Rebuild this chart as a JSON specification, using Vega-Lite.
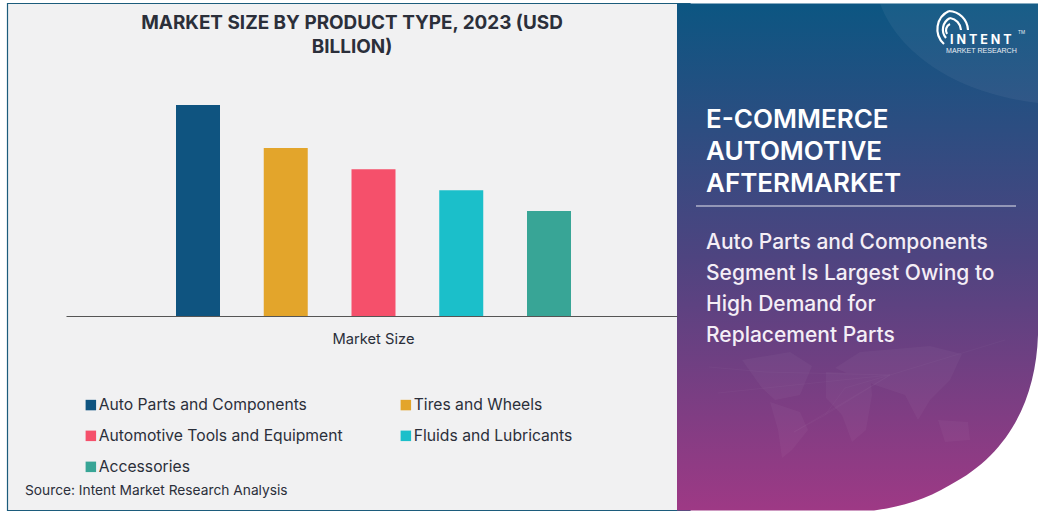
{
"$schema":"https://vega.github.io/schema/vega-lite/v6.json",
"width":1043,"height":513,"padding":0,"autosize":{"type":"none"},"background":"#ffffff",
"title":{"text":["MARKET SIZE BY PRODUCT TYPE, 2023 (USD","BILLION)"],"anchor":"start","align":"center","frame":"group","dx":352,"offset":-57,"baseline":"top","lineHeight":24.5,"font":"Inter","fontSize":18.9,"fontWeight":700,"color":"#2b2f3a"},
"config":{"view":{"stroke":null},"font":"Inter"},
"resolve":{"scale":{"x":"independent","y":"independent","color":"independent"},"axis":{"x":"independent","y":"independent"}},
"layer":[
{"data":{"values":[{"panel":"left"}]},
 "mark":{"type":"point","shape":"M7.5 3.5H690V510.5H7.5Z","size":4,"filled":true,"fill":"#f1f1f2","stroke":"#1c5c7c","strokeWidth":1.2,"opacity":1},
 "encoding":{"x":{"value":0},"y":{"value":0}}},
{"data":{"values":[
 {"group":"Market Size","product":"Auto Parts and Components","size":5},
 {"group":"Market Size","product":"Tires and Wheels","size":3.98},
 {"group":"Market Size","product":"Automotive Tools and Equipment","size":3.48},
 {"group":"Market Size","product":"Fluids and Lubricants","size":2.98},
 {"group":"Market Size","product":"Accessories","size":2.49}]},
 "mark":{"type":"bar"},
 "encoding":{
  "x":{"field":"group","type":"nominal","title":null,"scale":{"range":[66,677],"paddingInner":0,"paddingOuter":0},
   "axis":{"offset":-197,"zindex":1,"ticks":false,"labelAngle":0,"labelPadding":15,"labelOffset":2,"labelFont":"Inter","labelFontSize":14.7,"labelColor":"#2b2f3a","domainColor":"#555555","domainWidth":1,"grid":false}},
  "xOffset":{"field":"product","type":"nominal","sort":null,"scale":{"range":[110,505],"paddingInner":0.4986,"paddingOuter":0}},
  "y":{"field":"size","type":"quantitative","axis":null,"scale":{"domain":[0,7.488],"range":[316,0],"nice":false}},
  "color":{"field":"product","type":"nominal","sort":null,
   "scale":{"domain":["Auto Parts and Components","Tires and Wheels","Automotive Tools and Equipment","Fluids and Lubricants","Accessories"],"range":["#0f5480","#e3a52b","#f5506b","#1bbfca","#38a596"]},
   "legend":{"title":null,"orient":"none","legendX":83,"legendY":397,"columns":2,"direction":"horizontal","symbolType":"square","symbolSize":110,"symbolStrokeWidth":0,"labelFont":"Inter","labelFontSize":15.7,"labelColor":"#2b2f3a","labelOffset":0,"rowPadding":14,"columnPadding":55,"labelLimit":400}}}},
{"data":{"values":[{"text":"Source: Intent Market Research Analysis"}]},
 "mark":{"type":"text","align":"left","baseline":"middle","font":"Inter","fontSize":13.75,"color":"#2b2f3a"},
 "encoding":{"text":{"field":"text"},"x":{"value":25},"y":{"value":491}}},
{"data":{"values":[{"panel":"right"}]},
 "mark":{"type":"point","shape":"M677 3.5H1038V335C1036 400 1008 455 950 485C925 500 900 507 874 510.5H677Z","size":4,"filled":true,"opacity":1,"strokeWidth":0,
  "fill":{"gradient":"linear","x1":0,"y1":0,"x2":0,"y2":1,"stops":[{"offset":0,"color":"#0c5682"},{"offset":0.5,"color":"#4e4480"},{"offset":1,"color":"#9e3985"}]}},
 "encoding":{"x":{"value":0},"y":{"value":0}}},
{"data":{"values":[{"panel":"arc"}]},
 "mark":{"type":"point","shape":"M880 3.5C895 45 945 92 1038 103V3.5Z","size":4,"filled":true,"fill":"#ffffff","opacity":0.05,"strokeWidth":0},
 "encoding":{"x":{"value":0},"y":{"value":0}}},
{"data":{"values":[{"panel":"map"}]},
 "mark":{"type":"point","shape":"M742 360L790 352L812 366L800 395L775 400L762 388ZM770 402L800 412L808 430L792 450L782 458L778 430ZM826 372L870 374L872 395L866 430L852 442L842 415L826 398ZM835 368L860 352L930 346L962 354L950 380L930 400L918 420L905 395L875 385ZM938 420L968 422L970 440L945 442Z","size":4,"filled":true,"fill":"#ffffff","opacity":0.035,"strokeWidth":0},
 "encoding":{"x":{"value":0},"y":{"value":0}}},
{"data":{"values":[{"panel":"network"}]},
 "mark":{"type":"point","shape":"M890 375L718 393M890 375L794 432M890 375L825 415M890 375L845 388M890 375L1005 340M890 375L765 372M709 367L765 372M794 432L825 415M845 388L825 415","size":4,"filled":false,"stroke":"#ffffff","strokeWidth":0.5,"opacity":0.05},
 "encoding":{"x":{"value":0},"y":{"value":0}}},
{"data":{"values":[{"panel":"logo"}]},
 "mark":{"type":"point","shape":"M949 11A20 20 0 0 1 968 30M950 18A13 13 0 0 1 961 30M949 11A20 20 0 0 0 944 44M950 18A13 13 0 0 0 946 38M950 24A7 7 0 0 0 947 34","size":4,"filled":false,"stroke":"#ffffff","strokeWidth":2.2,"opacity":1},
 "encoding":{"x":{"value":0},"y":{"value":0}}},
{"data":{"values":[{"line":"E-COMMERCE"},{"line":"AUTOMOTIVE"},{"line":"AFTERMARKET"}]},
 "mark":{"type":"text","align":"left","baseline":"middle","font":"Inter","fontSize":26,"fontWeight":600,"color":"#ffffff"},
 "encoding":{"text":{"field":"line"},"x":{"value":706},"y":{"field":"line","type":"nominal","sort":null,"axis":null,"scale":{"type":"point","padding":0,"range":[120,184]}}}},
{"data":{"values":[{"part":"divider"}]},
 "mark":{"type":"rule","color":"#e6e6ee","strokeWidth":1},
 "encoding":{"x":{"value":696},"x2":{"value":1016},"y":{"value":206}}},
{"data":{"values":[{"line":"Auto Parts and Components"},{"line":"Segment Is Largest Owing to"},{"line":"High Demand for"},{"line":"Replacement Parts"}]},
 "mark":{"type":"text","align":"left","baseline":"middle","font":"Inter","fontSize":21,"fontWeight":500,"color":"#f4eef6"},
 "encoding":{"text":{"field":"line"},"x":{"value":706},"y":{"field":"line","type":"nominal","sort":null,"axis":null,"scale":{"type":"point","padding":0,"range":[243,336]}}}},
{"data":{"values":[{"t":"I N T E N T"}]},
 "mark":{"type":"text","align":"left","baseline":"middle","font":"Inter","fontSize":12.5,"fontWeight":700,"color":"#ffffff"},
 "encoding":{"text":{"field":"t"},"x":{"value":950},"y":{"value":40}}},
{"data":{"values":[{"t":"MARKET RESEARCH"}]},
 "mark":{"type":"text","align":"left","baseline":"middle","font":"Liberation Sans","fontSize":7.1,"color":"#e8eef4"},
 "encoding":{"text":{"field":"t"},"x":{"value":946},"y":{"value":50.5}}},
{"data":{"values":[{"t":"TM"}]},
 "mark":{"type":"text","align":"left","baseline":"middle","font":"Inter","fontSize":4.5,"color":"#e8eef4"},
 "encoding":{"text":{"field":"t"},"x":{"value":1018},"y":{"value":33}}}
]}
